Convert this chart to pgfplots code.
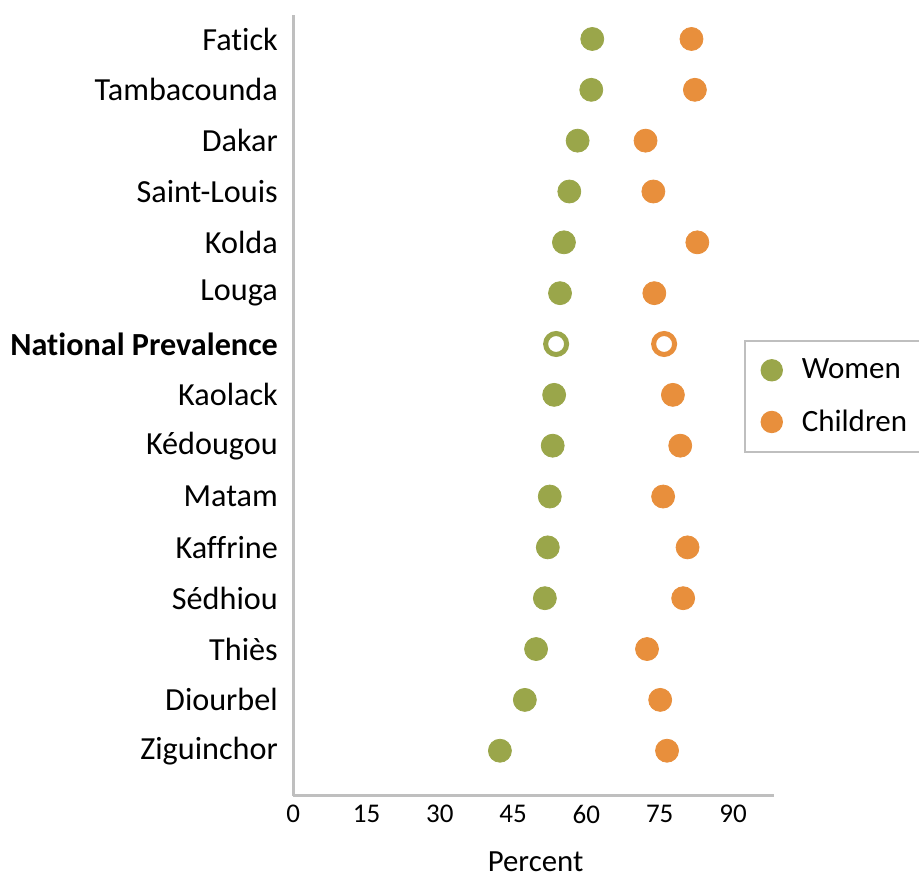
\documentclass[border=0pt]{standalone}
\usepackage{pgfplots}
\pgfplotsset{compat=1.18}
\usepackage{fontspec}
\setmainfont{Carlito}[Ligatures=NoCommon]
\definecolor{women}{RGB}{154,166,74}
\definecolor{children}{RGB}{232,143,60}
\definecolor{axgray}{RGB}{191,191,191}
\begin{document}
\begin{tikzpicture}
\begin{axis}[
  scale only axis,
  width=240.5pt, height=390.5pt,
  xmin=0, xmax=98.4,
  ymin=-0.885, ymax=14.472,
  axis lines*=left,
  axis line style={axgray, line width=1.5pt},
  xtick={0,15,30,45,60,75,90},
  ytick={0,...,14},
  yticklabels={Ziguinchor,Diourbel,Thiès,Sédhiou,Kaffrine,Matam,Kédougou,Kaolack,\textbf{National Prevalence},Louga,Kolda,Saint-Louis,Dakar,Tambacounda,Fatick},
  major tick length=0pt,
  /pgf/number format/assume math mode=true,
  x tick label style={font=\fontsize{13.5}{15}\selectfont, inner sep=0pt, anchor=north, yshift=-4.5pt},
  y tick label style={font=\fontsize{16.1}{18}\selectfont, inner sep=0pt, anchor=east, xshift=-7.5pt},
  xlabel={Percent},
  xlabel style={font=\fontsize{15.4}{18}\selectfont, inner sep=0pt, at={(axis description cs:0.504,0)}, anchor=center, yshift=-33pt},
  clip=false,
  legend style={at={(rel axis cs:0.937,0.5839)}, anchor=north west, draw=axgray, line width=1pt,
    font=\fontsize{15.5}{18}\selectfont, row sep=10pt, inner xsep=6pt, inner ysep=7pt,
    legend cell align=left, nodes={inner sep=2pt}},
  legend image code/.code={\path[draw=none, fill=none] (0pt,0pt) -- (20.5pt,0pt); \fill[#1, draw=none] (7.5pt,0pt) circle (5.6pt);},
]
% Women
\addplot[only marks, mark=*, mark size=5.75pt, color=women, mark options={fill=women, draw=none}] coordinates {
  (42.3,0) (47.4,1) (49.7,2) (51.5,3) (52.1,4) (52.5,5) (53.1,6) (53.4,7)
  (54.6,9) (55.4,10) (56.5,11) (58.2,12) (61.0,13) (61.2,14)
};
\addlegendentry{Women}
% Children
\addplot[only marks, mark=*, mark size=5.75pt, color=children, mark options={fill=children, draw=none}] coordinates {
  (76.5,0) (75.1,1) (72.4,2) (79.8,3) (80.7,4) (75.7,5) (79.2,6) (77.7,7)
  (73.9,9) (82.7,10) (73.7,11) (72.1,12) (82.2,13) (81.5,14)
};
\addlegendentry{Children}
% National prevalence (open markers)
\addplot[forget plot, only marks, mark=*, mark size=5.25pt, mark options={fill=white, draw=women, line width=2.5pt}] coordinates {(53.8,8)};
\addplot[forget plot, only marks, mark=*, mark size=5.25pt, mark options={fill=white, draw=children, line width=2.5pt}] coordinates {(75.9,8)};
\coordinate (bl) at (rel axis cs:-0.6098,-0.1012);
\coordinate (tr) at (rel axis cs:1.3014,1.0192);
\end{axis}
\pgfresetboundingbox
\path[use as bounding box] (bl) rectangle (tr);
\end{tikzpicture}
\end{document}
